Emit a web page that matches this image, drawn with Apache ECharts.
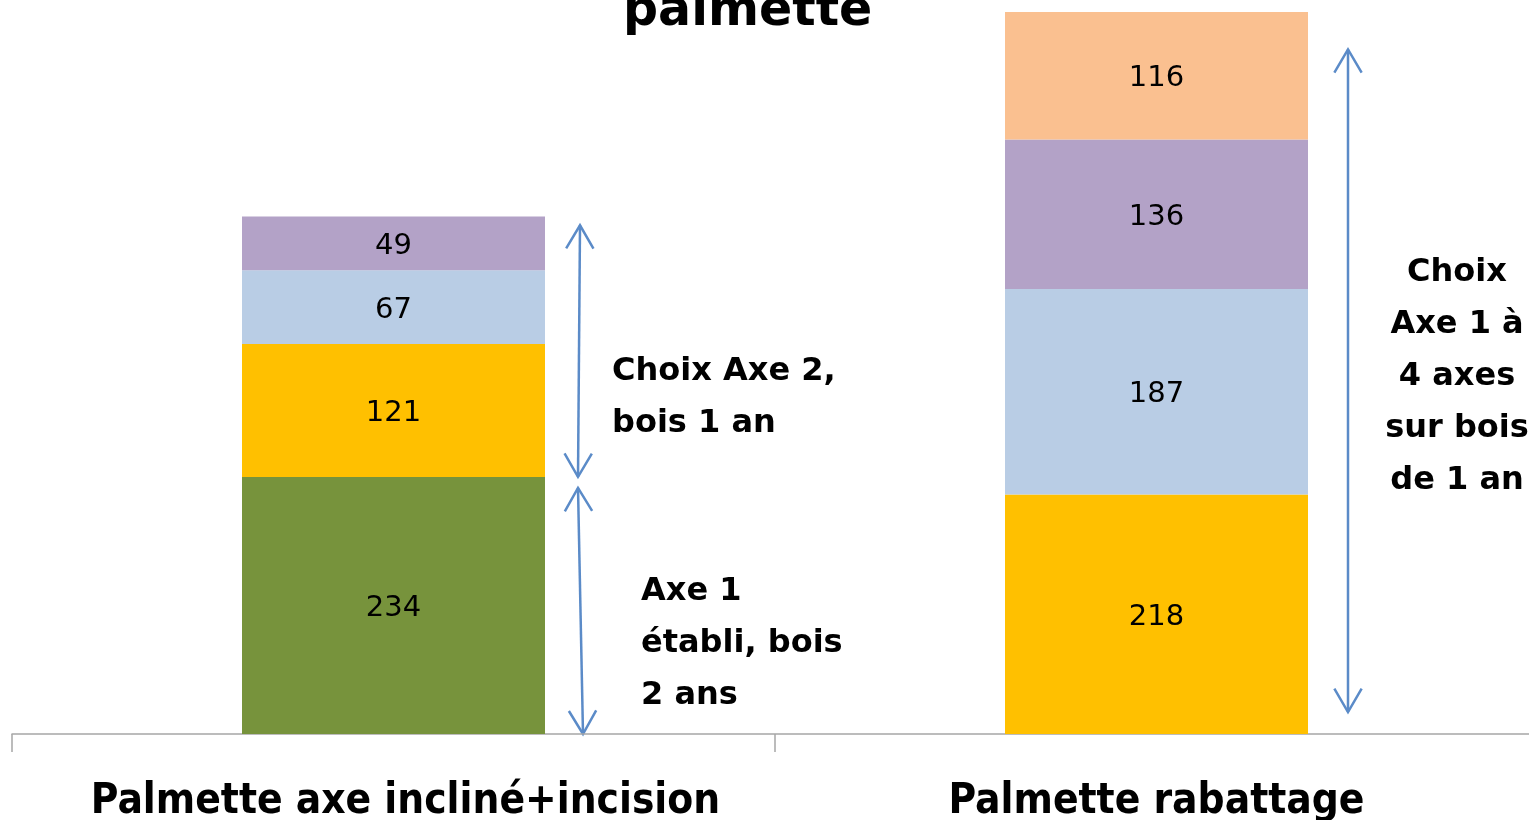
<!DOCTYPE html>
<html>
<head>
<meta charset="utf-8">
<title>palmette</title>
<script src="https://cdn.jsdelivr.net/npm/echarts@6/dist/echarts.min.js"></script>
<style>
  html, body { margin: 0; padding: 0; background: #fff; }
  #chart { width: 1529px; height: 820px; }
</style>
</head>
<body>
<div id="chart"></div>
<script>
// data
const categories = ['Palmette axe incliné+incision', 'Palmette rabattage']
const axe1Etabli = [234, '-']
const axe2 = [121, 218]
const axe3 = [67, 187]
const axe4 = [49, 136]
const axe5 = ['-', 116]

// annotation spans in value units
const arrowSpans = [
  { cat: 0, from: 234, to: 463, dxFrom: 33, dxTo: 35 },
  { cat: 0, from: 0, to: 224, dxFrom: 38, dxTo: 33 },
  { cat: 1, from: 20, to: 623, dxFrom: 40, dxTo: 40 },
]
const notes = [
  { cat: 0, at: 306, dx: 67, align: 'left', text: 'Choix Axe 2,\nbois 1 an' },
  { cat: 0, at: 82, dx: 96, align: 'left', text: 'Axe 1\nétabli, bois\n2 ans' },
  { cat: 1, at: 325, dx: 149, align: 'center', text: 'Choix\nAxe 1 à\n4 axes\nsur bois\nde 1 an' },
]

const BAR_W = 303
const ARROW_COLOR = '#5B8BC8'

const chart = echarts.init(document.getElementById('chart'))

const label = {
  show: true,
  position: 'inside',
  offset: [0, 3],
  color: '#000',
  fontFamily: 'DejaVu Sans',
  fontSize: 29,
}

const mkSeries = (name, data, color) => ({
  name,
  type: 'bar',
  stack: 'total',
  data,
  barWidth: BAR_W,
  itemStyle: { color },
  label,
})

const catFont = {
  color: '#000',
  fontFamily: 'DejaVu Sans Condensed',
  fontWeight: 'bold',
  fontSize: 42,
}

chart.setOption({
  backgroundColor: '#fff',
  animation: false,
  title: {
    text: 'palmette',
    left: 623,
    top: -12,
    padding: 0,
    textStyle: { fontFamily: 'DejaVu Sans', fontWeight: 'bold', fontSize: 49, color: '#000' },
  },
  grid: { left: 12, top: 0, width: 1526, height: 734, outerBoundsMode: 'none', containLabel: false },
  xAxis: {
    type: 'category',
    data: categories,
    axisLine: { lineStyle: { color: '#A6A6A6', width: 1.5 } },
    axisTick: { show: true, length: 18, lineStyle: { color: '#A6A6A6', width: 1.5 } },
    axisLabel: {
      margin: 47,
      interval: 0,
      hideOverlap: false,
      ...catFont,
      formatter: (v, i) => (i === 0 ? '{first|' + v + '}' : v),
      rich: { first: { ...catFont, padding: [0, 0, 0, 24] } },
    },
  },
  yAxis: { type: 'value', min: 0, max: 668, show: false, splitLine: { show: false } },
  series: [
    mkSeries('Axe 1', axe1Etabli, '#77933C'),
    mkSeries('Axe 2', axe2, '#FFC000'),
    mkSeries('Axe 3', axe3, '#B9CDE5'),
    mkSeries('Axe 4', axe4, '#B3A2C7'),
    mkSeries('Axe 5', axe5, '#FAC090'),
  ],
})

// arrows and notes placed through the chart's own scales
const toPx = (cat, v) => chart.convertToPixel({ gridIndex: 0 }, [cat, v])

const arrowHead = (tip, dir) => {
  // dir: unit vector pointing from tip into the shaft
  const len = 27, spread = 0.53
  const c = Math.cos(spread), s = Math.sin(spread)
  const a = [tip[0] + len * (dir[0] * c - dir[1] * s), tip[1] + len * (dir[0] * s + dir[1] * c)]
  const b = [tip[0] + len * (dir[0] * c + dir[1] * s), tip[1] + len * (-dir[0] * s + dir[1] * c)]
  return {
    type: 'polyline',
    shape: { points: [a, tip, b] },
    style: { stroke: ARROW_COLOR, lineWidth: 2.5, fill: null },
  }
}

const graphics = []
arrowSpans.forEach(sp => {
  const edge = toPx(sp.cat, 0)[0] + BAR_W / 2
  const p1 = [edge + sp.dxFrom, toPx(sp.cat, sp.from)[1]]
  const p2 = [edge + sp.dxTo, toPx(sp.cat, sp.to)[1]]
  const L = Math.hypot(p2[0] - p1[0], p2[1] - p1[1])
  const d = [(p2[0] - p1[0]) / L, (p2[1] - p1[1]) / L]
  graphics.push({
    type: 'line',
    shape: { x1: p1[0], y1: p1[1], x2: p2[0], y2: p2[1] },
    style: { stroke: ARROW_COLOR, lineWidth: 2.5 },
  })
  graphics.push(arrowHead(p1, d))
  graphics.push(arrowHead(p2, [-d[0], -d[1]]))
})

notes.forEach(n => {
  const edge = toPx(n.cat, 0)[0] + BAR_W / 2
  graphics.push({
    type: 'text',
    x: edge + n.dx,
    y: toPx(n.cat, n.at)[1],
    style: {
      text: n.text,
      fill: '#000',
      font: 'bold 32px "DejaVu Sans"',
      lineHeight: 52,
      align: n.align,
      verticalAlign: 'middle',
    },
  })
})

chart.setOption({ graphic: graphics })
</script>
</body>
</html>
